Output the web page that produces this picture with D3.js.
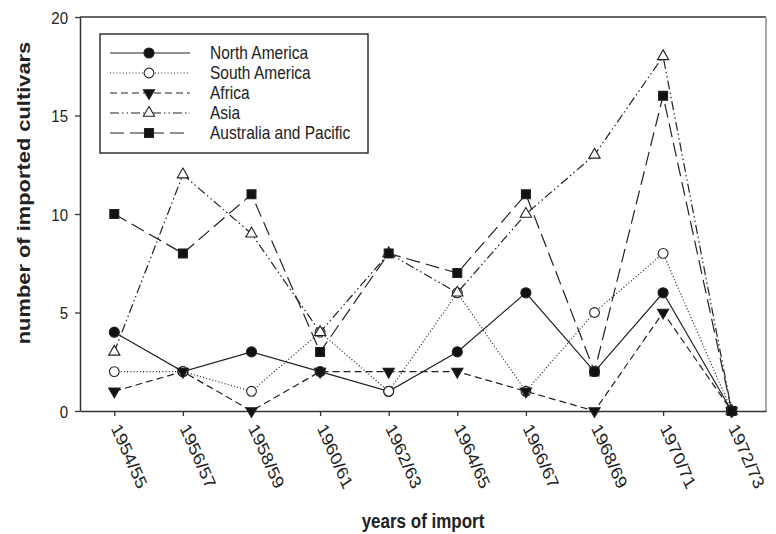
<!DOCTYPE html>
<html>
<head>
<meta charset="utf-8">
<script src="https://cdn.jsdelivr.net/npm/d3@7"></script>
<style>
  body { margin: 0; background: #fff; }
  text { font-family: "Liberation Sans", Arial, Helvetica, sans-serif; fill: #222; }
</style>
</head>
<body>
<svg width="776" height="534"></svg>
<script>
var svg = d3.select("svg");

// data
var years = ["1954/55","1956/57","1958/59","1960/61","1962/63","1964/65","1966/67","1968/69","1970/71","1972/73"];
var northAmerica = [4, 2, 3, 2, 1, 3, 6, 2, 6, 0];
var southAmerica = [2, 2, 1, 4, 1, 6, 1, 5, 8, 0];
var africa       = [1, 2, 0, 2, 2, 2, 1, 0, 5, 0];
var asia         = [3, 12, 9, 4, 8, 6, 10, 13, 18, 0];
var australia    = [10, 8, 11, 3, 8, 7, 11, 2, 16, 0];
var yTicks = [0, 5, 10, 15, 20];

var series = [
  {name: "North America", values: northAmerica, dash: null, symbol: d3.symbolCircle, size: 80, fill: "#111", rot: 0},
  {name: "South America", values: southAmerica, dash: "1,2.2", symbol: d3.symbolCircle, size: 75, fill: "#fff", rot: 0},
  {name: "Africa", values: africa, dash: "7,4", symbol: d3.symbolTriangle, size: 55, fill: "#111", rot: 180},
  {name: "Asia", values: asia, dash: "9,3,1.5,3,1.5,3", symbol: d3.symbolTriangle, size: 55, fill: "#fff", rot: 0},
  {name: "Australia and Pacific", values: australia, dash: "14,6", symbol: d3.symbolSquare, size: 80, fill: "#111", rot: 0}
];

var plotLeft = 80, plotRight = 766, plotTop = 17, plotBottom = 411;
var stretch = 1.15;

var x = d3.scalePoint().domain(years).range([plotLeft, plotRight]).padding(0.5);
var y = d3.scaleLinear().domain([0, 20]).range([plotBottom, plotTop]);

// frame
svg.append("line").attr("x1", plotLeft).attr("x2", plotRight).attr("y1", plotTop).attr("y2", plotTop)
  .attr("stroke", "#333").attr("stroke-width", 1.5);
svg.append("line").attr("x1", plotRight).attr("x2", plotRight).attr("y1", plotTop).attr("y2", plotBottom)
  .attr("stroke", "#aaa").attr("stroke-width", 2);

// y axis
var yAxis = svg.append("g").attr("transform", "translate(" + plotLeft + ",0)")
  .call(d3.axisLeft(y).tickValues(yTicks).tickSize(5).tickSizeOuter(0));
yAxis.attr("font-family", null).attr("font-size", null);
yAxis.select(".domain").attr("stroke", "#333").attr("stroke-width", 1.5);
yAxis.selectAll(".tick line").attr("stroke", "#333").attr("stroke-width", 1.3);
yAxis.selectAll(".tick text")
  .attr("x", 0).attr("dy", "0.35em")
  .attr("transform", "translate(-12,0) scale(1," + stretch + ")")
  .style("font-size", "15px");

// x axis
var xAxis = svg.append("g").attr("transform", "translate(0," + plotBottom + ")")
  .call(d3.axisBottom(x).tickSize(5).tickSizeOuter(0));
xAxis.attr("font-family", null).attr("font-size", null);
xAxis.select(".domain").attr("stroke", "#333").attr("stroke-width", 1.5);
xAxis.selectAll(".tick line").attr("stroke", "#333").attr("stroke-width", 1.3);
xAxis.selectAll(".tick text")
  .attr("x", 0).attr("y", 0).attr("dy", "0.35em")
  .attr("text-anchor", "start")
  .attr("transform", "translate(1,14) scale(1,1.22) rotate(62)")
  .style("font-size", "16px");

// lines and markers
var line = d3.line().x(function(d, i) { return x(years[i]); }).y(function(d) { return y(d); });

series.forEach(function(s) {
  svg.append("path")
    .attr("d", line(s.values))
    .attr("fill", "none")
    .attr("stroke", "#222")
    .attr("stroke-width", 1.2)
    .attr("stroke-dasharray", s.dash);
});

series.forEach(function(s) {
  svg.append("g").selectAll("path")
    .data(s.values)
    .enter()
    .append("path")
    .attr("d", d3.symbol().type(s.symbol).size(s.size))
    .attr("transform", function(d, i) { return "translate(" + x(years[i]) + "," + y(d) + ") rotate(" + s.rot + ")"; })
    .attr("fill", s.fill)
    .attr("stroke", "#222")
    .attr("stroke-width", 1.1);
});

// legend
var legend = svg.append("g");
legend.append("rect")
  .attr("x", 100).attr("y", 34).attr("width", 268).attr("height", 119)
  .attr("fill", "#fff").attr("stroke", "#333").attr("stroke-width", 1.5);

var item = legend.selectAll(".item")
  .data(series)
  .enter()
  .append("g")
  .attr("class", "item")
  .attr("transform", function(d, i) { return "translate(0," + (53 + i * 20) + ")"; });

item.append("line")
  .attr("x1", 110).attr("x2", 190)
  .attr("stroke", "#222").attr("stroke-width", 1.2)
  .attr("stroke-dasharray", function(d) { return d.dash; });
item.append("path")
  .attr("d", function(d) { return d3.symbol().type(d.symbol).size(d.size)(); })
  .attr("transform", function(d) { return "translate(149,0) rotate(" + d.rot + ")"; })
  .attr("fill", function(d) { return d.fill; })
  .attr("stroke", "#222").attr("stroke-width", 1.1);
item.append("text")
  .attr("dy", "0.35em")
  .attr("transform", "translate(210,0) scale(1," + stretch + ")")
  .style("font-size", "15.5px")
  .text(function(d) { return d.name; });

// axis titles
svg.append("text")
  .attr("text-anchor", "middle")
  .attr("transform", "translate(" + ((plotLeft + plotRight) / 2) + ",528) scale(1," + stretch + ")")
  .style("font-size", "17px").style("font-weight", "bold")
  .text("years of import");

svg.append("text")
  .attr("text-anchor", "middle")
  .attr("dy", "0.35em")
  .attr("transform", "translate(24,193) rotate(-90) scale(1.25,1)")
  .style("font-size", "17.5px").style("font-weight", "bold")
  .text("number of imported cultivars");
</script>
</body>
</html>
